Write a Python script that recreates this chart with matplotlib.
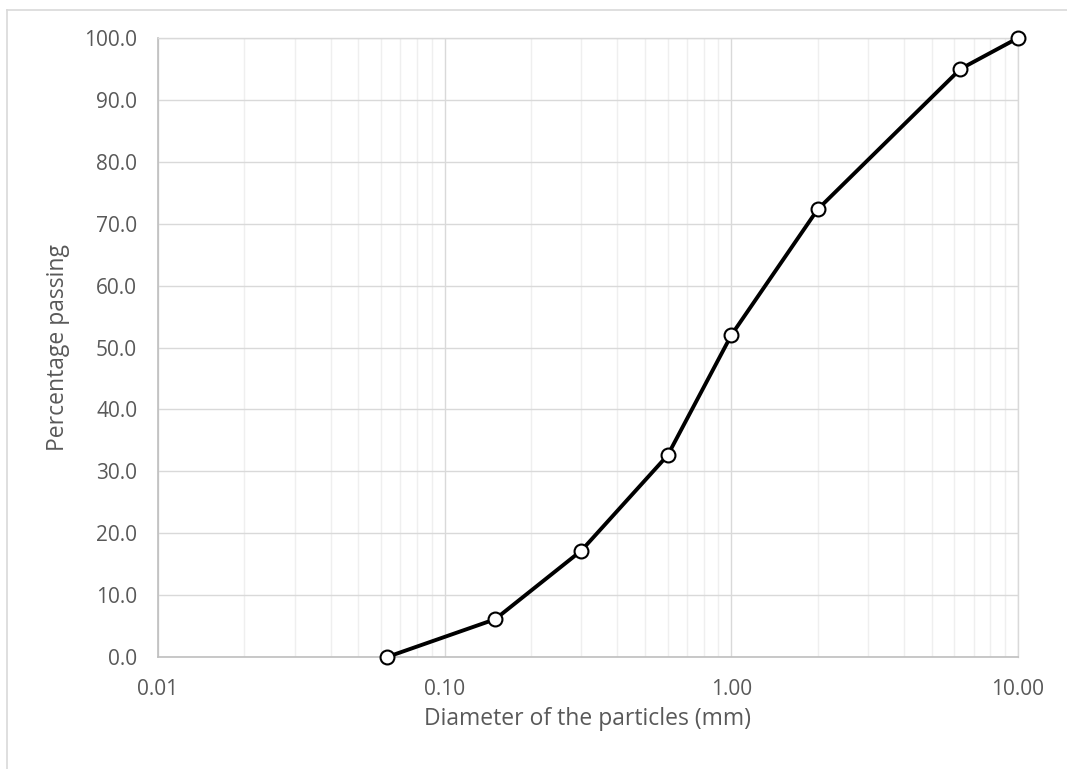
import matplotlib
matplotlib.use("Agg")
import matplotlib.pyplot as plt
from matplotlib.ticker import LogLocator, FixedLocator, FuncFormatter
from matplotlib.lines import Line2D

diameter_mm = [0.063, 0.15, 0.3, 0.6, 1.0, 2.0, 6.3, 10.0]
percent_passing = [0.0, 6.1, 17.2, 32.6, 52.0, 72.3, 95.0, 100.0]
x_ticks = [0.01, 0.1, 1.0, 10.0]
y_ticks = [0, 10, 20, 30, 40, 50, 60, 70, 80, 90, 100]

plt.rcParams['font.family'] = ['Open Sans', 'DejaVu Sans']

fig = plt.figure(figsize=(10.67, 7.69), dpi=100)
ax = fig.add_axes([158/1067, 1-657/769, (1018-158)/1067, (657-38)/769])

ax.plot(diameter_mm, percent_passing, color='black', lw=2.8, marker='o',
        markersize=10, markerfacecolor='white', markeredgecolor='black',
        markeredgewidth=1.5, zorder=5, clip_on=False)

ax.set_xscale('log')
ax.set_xlim(0.01, 10)
ax.set_ylim(0, 100)
ax.xaxis.set_major_locator(FixedLocator(x_ticks))
ax.xaxis.set_minor_locator(LogLocator(base=10, subs=range(2, 10)))
ax.xaxis.set_major_formatter(FuncFormatter(lambda v, p: f"{v:.2f}"))
ax.xaxis.set_minor_formatter(FuncFormatter(lambda v, p: ""))
ax.yaxis.set_major_locator(FixedLocator(y_ticks))
ax.yaxis.set_major_formatter(FuncFormatter(lambda v, p: f"{v:.1f}"))

ax.grid(which='major', axis='both', color='#d9d9d9', lw=1.0)
ax.grid(which='minor', axis='x', color='#efefef', lw=1.0)
ax.set_axisbelow(True)

ax.tick_params(which='both', length=0, labelsize=15, labelcolor='#595959')
ax.tick_params(axis='x', pad=16)
ax.tick_params(axis='y', pad=15)

for s in ['top', 'right']:
    ax.spines[s].set_color('#d9d9d9')
    ax.spines[s].set_linewidth(1.0)
for s in ['left', 'bottom']:
    ax.spines[s].set_color('#bfbfbf')
    ax.spines[s].set_linewidth(1.2)

ax.set_xlabel('Diameter of the particles (mm)', fontsize=16.5, color='#595959', labelpad=5)
ax.set_ylabel('Percentage passing', fontsize=16.5, color='#595959', labelpad=10)

# outer chart border (partially cropped)
fig.add_artist(Line2D([7/1067, 7/1067], [0, 1-10/769], color='#d9d9d9', lw=1.2))
fig.add_artist(Line2D([7/1067, 1], [1-10/769, 1-10/769], color='#d9d9d9', lw=1.2))

fig.savefig('out.png', dpi=100)
